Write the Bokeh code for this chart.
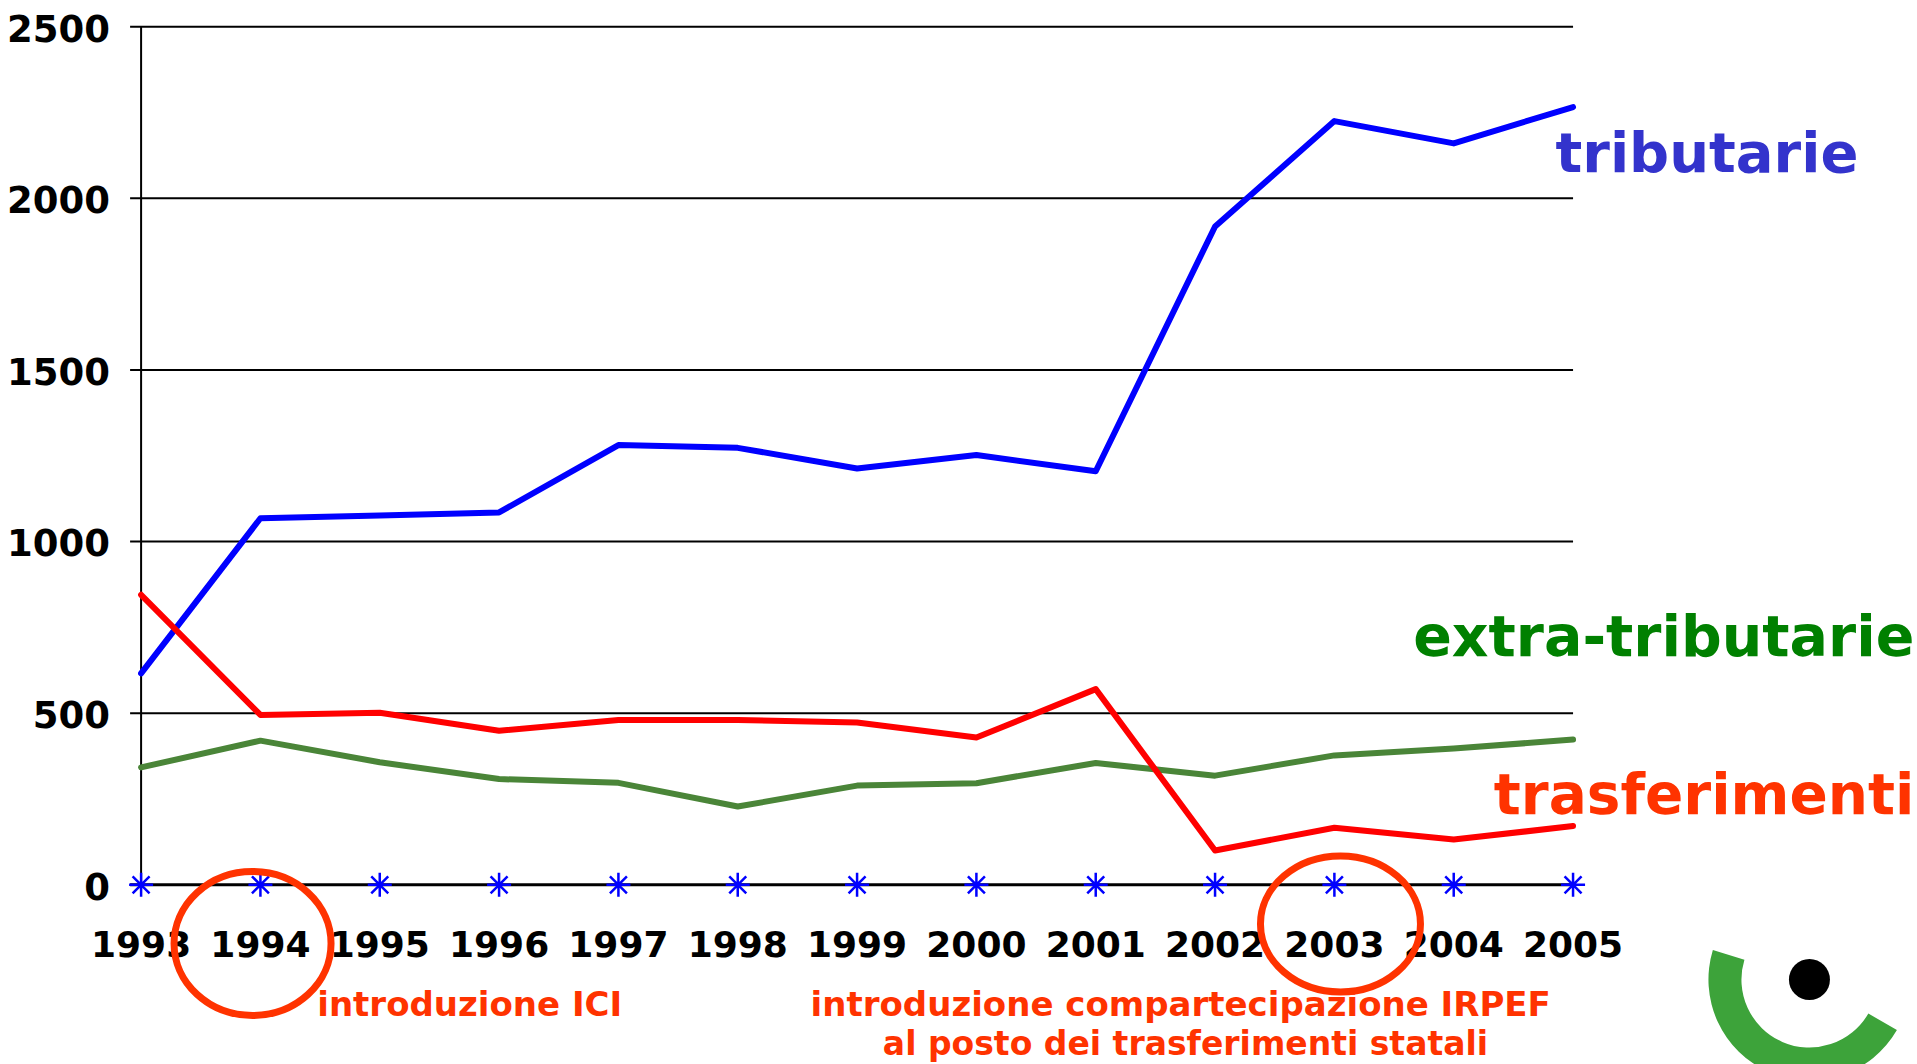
from bokeh.plotting import figure
from bokeh.models import Range1d
from bokeh.core.properties import value
from bokeh.embed import file_html
from bokeh.resources import INLINE

# ---------------- data ----------------
years = [1993, 1994, 1995, 1996, 1997, 1998, 1999, 2000, 2001, 2002, 2003, 2004, 2005]
year_labels = [str(y) for y in years]
tributarie = [616, 1068, 1076, 1085, 1281, 1273, 1213, 1252, 1205, 1918, 2225, 2160, 2266]
extra_tributarie = [342, 420, 357, 308, 297, 228, 289, 296, 355, 318, 377, 397, 423]
trasferimenti = [845, 495, 501, 449, 480, 480, 473, 429, 570, 100, 166, 132, 171]
zero_series = [0, 0, 0, 0, 0, 0, 0, 0, 0, 0, 0, 0, 0]
y_ticks = [0, 500, 1000, 1500, 2000, 2500]
y_tick_labels = ["0", "500", "1000", "1500", "2000", "2500"]
series_names = ["tributarie", "extra-tributarie", "trasferimenti"]
notes = ["introduzione ICI",
         "introduzione compartecipazione IRPEF",
         "al posto dei trasferimenti statali"]

FONT = value("DejaVu Sans")
W, H = 1917, 1064

p = figure(width=W, height=H, output_backend="svg", toolbar_location=None,
           x_range=Range1d(1991.8218, 2007.8865), y_range=Range1d(-523.54, 2576.33),
           x_axis_type=None, y_axis_type=None, min_border=0,
           outline_line_color=None, background_fill_color="white",
           border_fill_color="white")

x_left = 1993 - 11 / 119.33   # little tick outside the y axis

# horizontal grid lines
grid_ticks = y_ticks[1:]
p.segment(x0=[x_left] * len(grid_ticks), x1=[years[-1]] * len(grid_ticks),
          y0=grid_ticks, y1=grid_ticks, line_color="black", line_width=2)
# x axis line at zero
p.segment(x0=[x_left], x1=[years[-1]], y0=[0], y1=[0], line_color="black", line_width=3)
# y axis line
p.segment(x0=[years[0]], x1=[years[0]], y0=[0], y1=[y_ticks[-1]], line_color="black", line_width=2)

# y tick labels
p.text(x=[years[0]] * len(y_ticks), y=[t - 4 for t in y_ticks], text=y_tick_labels,
       x_offset=-31, text_align="right", text_baseline="middle",
       text_font=FONT, text_font_style="bold", text_font_size="37px", text_color="black")
# year labels
p.text(x=years, y=[-173] * len(years), text=year_labels,
       text_align="center", text_baseline="middle",
       text_font=FONT, text_font_style="bold", text_font_size="36px", text_color="black")

# series
p.line(years, extra_tributarie, line_color="#4A8538", line_width=6,
       line_join="round", line_cap="round")
p.line(years, tributarie, line_color="#0000FF", line_width=6,
       line_join="round", line_cap="round")
p.line(years, trasferimenti, line_color="#FF0000", line_width=6,
       line_join="round", line_cap="round")
p.scatter(years, zero_series, marker="asterisk", size=24, line_color="#0000FF", line_width=2.5)

# series labels
p.text(x=[2004.853], y=[2133], text=[series_names[0]], text_align="left",
       text_baseline="middle", text_font=FONT, text_font_style="bold",
       text_font_size="56px", text_color="#3333CC")
p.text(x=[2007.86], y=[724], text=[series_names[1]], text_align="right",
       text_baseline="middle", text_font=FONT, text_font_style="bold",
       text_font_size="57px", text_color="#008000")
p.text(x=[2007.86], y=[262], text=[series_names[2]], text_align="right",
       text_baseline="middle", text_font=FONT, text_font_style="bold",
       text_font_size="56.5px", text_color="#FF3300")

# highlight ellipses around 1994 and 2003
p.ellipse(x=[1993.934, 2003.051], y=[-171, -114], width=[157, 160], height=[144, 136],
          width_units="screen", height_units="screen",
          fill_color=None, line_color="#FF3300", line_width=7)

# notes
p.text(x=[1995.754, 2001.712], y=[-347, -347], text=notes[:2],
       text_align="center", text_baseline="middle", text_font=FONT,
       text_font_style="bold", text_font_size="34px", text_color="#FF3300")
p.text(x=[2001.752], y=[-461], text=notes[2:],
       text_align="center", text_baseline="middle", text_font=FONT,
       text_font_style="bold", text_font_size="33px", text_color="#FF3300")

# logo
p.annular_wedge(x=[2006.981], y=[-276], inner_radius=[68], outer_radius=[101],
                inner_radius_units="screen", outer_radius_units="screen",
                start_angle=163, end_angle=330, start_angle_units="deg",
                end_angle_units="deg", direction="anticlock",
                fill_color="#3DA33A", line_color=None)
p.scatter(x=[2006.981], y=[-276], size=41, marker="circle",
          fill_color="black", line_color=None)

open("out.html", "w").write(file_html(p, INLINE))
